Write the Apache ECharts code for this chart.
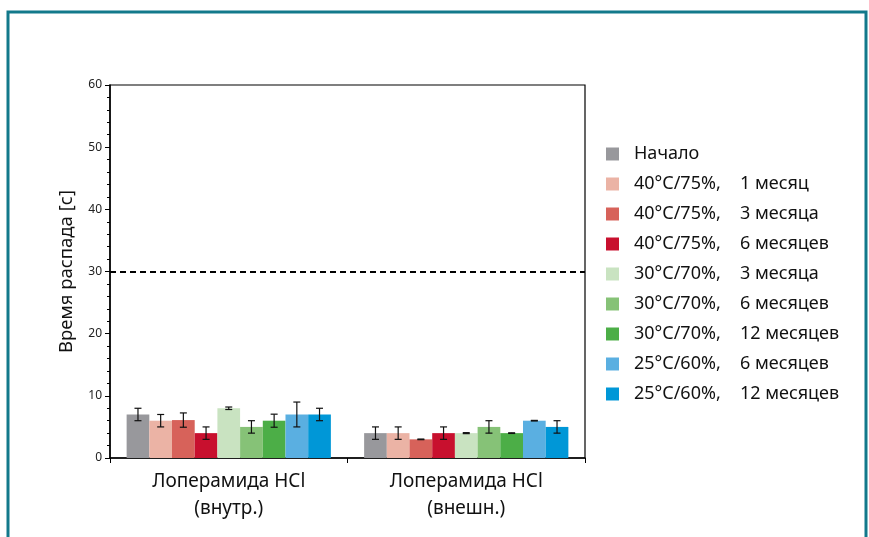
<!DOCTYPE html>
<html><head><meta charset="utf-8">
<script src="https://cdn.jsdelivr.net/npm/echarts@6/dist/echarts.min.js"></script>
<style>html,body{margin:0;padding:0;background:#fff}#c{width:869px;height:537px}</style>
</head><body><div id="c"></div>
<script>
const categories = ['Лоперамида HCl\n(внутр.)', 'Лоперамида HCl\n(внешн.)'];
const seriesNames = ['Начало', '40°C/75%, 1 месяц', '40°C/75%, 3 месяца', '40°C/75%, 6 месяцев',
  '30°C/70%, 3 месяца', '30°C/70%, 6 месяцев', '30°C/70%, 12 месяцев', '25°C/60%, 6 месяцев', '25°C/60%, 12 месяцев'];
const colors = ['#98989c', '#ebb3a5', '#d7625a', '#c8102e', '#c9e3c1', '#86c277', '#4cae47', '#5aafe1', '#0097d7'];
const nachalo = [7, 4];
const t40_1 = [6, 4];
const t40_3 = [6.1, 3];
const t40_6 = [4, 4];
const t30_3 = [8, 4];
const t30_6 = [5, 5];
const t30_12 = [6, 4];
const t25_6 = [7, 6];
const t25_12 = [7, 5];
const err_nachalo = [1, 1];
const err_t40_1 = [1, 1];
const err_t40_3 = [1.15, 0.05];
const err_t40_6 = [1, 1];
const err_t30_3 = [0.2, 0.08];
const err_t30_6 = [1, 1];
const err_t30_12 = [1.05, 0.05];
const err_t25_6 = [2, 0.05];
const err_t25_12 = [1, 1];
const yTicks = [0, 10, 20, 30, 40, 50, 60];
const limitValue = 30;

const values = [nachalo, t40_1, t40_3, t40_6, t30_3, t30_6, t30_12, t25_6, t25_12];
const errors = [err_nachalo, err_t40_1, err_t40_3, err_t40_6, err_t30_3, err_t30_6, err_t30_12, err_t25_6, err_t25_12];
const FONT = 'Noto Sans';
const GAP = 0.14;
const N = values.length;

const series = [];
values.forEach((v, k) => {
  const s = {
    name: seriesNames[k], type: 'bar', data: v, barGap: '0%', barCategoryGap: (GAP * 100) + '%',
    itemStyle: { color: colors[k] }, emphasis: { disabled: true }
  };
  if (k === 0) {
    s.markLine = {
      silent: true, symbol: 'none', label: { show: false },
      lineStyle: { color: '#000', type: [6, 4], width: 2 },
      data: [{ yAxis: limitValue }]
    };
  }
  series.push(s);
});
values.forEach((v, k) => {
  series.push({
    type: 'custom', silent: true, z: 5,
    data: v.map((val, i) => [i, val - errors[k][i], val + errors[k][i]]),
    renderItem: function (params, api) {
      const i = api.value(0);
      const band = api.size([1, 0])[0];
      const bw = band * (1 - GAP) / N;
      const c = api.coord([i, 0]);
      const x = c[0] - band * (1 - GAP) / 2 + bw * (k + 0.5);
      const lo = api.coord([i, api.value(1)])[1];
      const hi = api.coord([i, api.value(2)])[1];
      const cap = 3.5;
      const st = { stroke: '#111', lineWidth: 1.2 };
      return { type: 'group', children: [
        { type: 'line', shape: { x1: x, y1: lo, x2: x, y2: hi }, style: st },
        { type: 'line', shape: { x1: x - cap, y1: lo, x2: x + cap, y2: lo }, style: st },
        { type: 'line', shape: { x1: x - cap, y1: hi, x2: x + cap, y2: hi }, style: st }
      ]};
    }
  });
});

const chart = echarts.init(document.getElementById('c'));
chart.setOption({
  animation: false,
  backgroundColor: '#fff',
  textStyle: { fontFamily: FONT },
  graphic: [
    { type: 'polyline', shape: { points: [[8, 537], [8, 12], [866, 12], [866, 537]] },
      style: { stroke: '#12798b', lineWidth: 3, fill: null } }
  ],
  grid: { left: 110, right: 284, top: 85, bottom: 79, show: true, borderColor: '#000', borderWidth: 1.2, backgroundColor: 'transparent' },
  legend: {
    orient: 'vertical', left: 606, top: 145, padding: 0, itemWidth: 13, itemHeight: 13, itemGap: 12,
    icon: 'rect', selectedMode: false,
    data: seriesNames,
    formatter: function (name) {
      const p = name.split(', ');
      if (p.length === 1) return '{a|' + name + '}';
      return '{a|' + p[0] + ',}{b|' + p[1] + '}';
    },
    textStyle: {
      fontFamily: FONT, fontSize: 18, color: '#111',
      rich: {
        a: { fontFamily: FONT, fontSize: 18, color: '#111', width: 106, lineHeight: 22, padding: [0, 0, 0, 10] },
        b: { fontFamily: FONT, fontSize: 18, color: '#111', lineHeight: 22 }
      }
    }
  },
  xAxis: {
    type: 'category', data: categories,
    axisLine: { lineStyle: { color: '#000', width: 1.5 } },
    axisTick: { show: true, length: 5, lineStyle: { color: '#000' } },
    axisLabel: { fontFamily: FONT, fontSize: 19, color: '#111', lineHeight: 27, margin: 10 }
  },
  yAxis: {
    type: 'value', min: 0, max: 60, interval: 10,
    name: 'Время распада [с]', nameLocation: 'middle', nameGap: 34,
    nameTextStyle: { fontFamily: FONT, fontSize: 18.5, color: '#111' },
    axisLine: { show: true, lineStyle: { color: '#000', width: 1.5 } },
    axisTick: { show: true, length: 5, lineStyle: { color: '#000' } },
    minorTick: { show: true, splitNumber: 5, length: 3, lineStyle: { color: '#000' } },
    splitLine: { show: false },
    axisLabel: { fontFamily: FONT, fontSize: 12, color: '#222', margin: 8,
      formatter: function (v) { return yTicks.indexOf(v) >= 0 ? String(v) : ''; } }
  },
  series: series
});
</script></body></html>
